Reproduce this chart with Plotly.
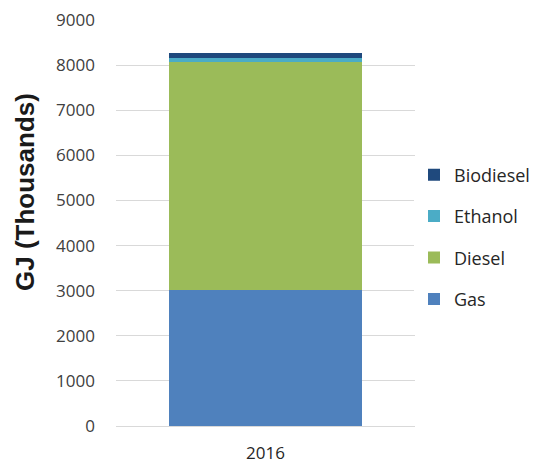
import plotly.graph_objects as go

years = ["2016"]
gas = [3020]
diesel = [5040]
ethanol = [105]
biodiesel = [100]

series = [
    ("Gas", gas, "#4F81BD"),
    ("Diesel", diesel, "#9BBB59"),
    ("Ethanol", ethanol, "#4BACC6"),
    ("Biodiesel", biodiesel, "#1F497D"),
]

fig = go.Figure()
for i, (name, vals, color) in enumerate(series):
    fig.add_trace(go.Bar(
        x=years, y=vals, name=name, legendgroup=name,
        legendrank=len(series) - i,
        marker=dict(color=color, line=dict(width=0)),
    ))

fig.update_layout(
    width=534, height=466,
    margin=dict(l=116, r=119, t=20, b=40, autoexpand=False),
    barmode="stack", bargap=0.354,
    plot_bgcolor="white", paper_bgcolor="white",
    font=dict(family="Open Sans, Noto Sans, sans-serif", size=17, color="#404040"),
    showlegend=True,
    legend=dict(
        xref="container", yref="container",
        x=414 / 534, y=1 - 237 / 466, xanchor="left", yanchor="middle",
        traceorder="grouped", tracegroupgap=15,
        font=dict(size=18, color="#262626"),
        itemwidth=30,
    ),
    yaxis=dict(
        range=[0, 9000], dtick=1000, showgrid=True, gridcolor="#D9D9D9", gridwidth=1,
        zeroline=False, showline=False, ticks="", ticklabelstandoff=20,
        tickfont=dict(size=17, color="#404040"),
    ),
    xaxis=dict(
        showline=True, linecolor="#D9D9D9", linewidth=1, ticks="",
        tickfont=dict(size=17, color="#262626"), ticklabelstandoff=12,
    ),
    annotations=[dict(
        text="GJ (Thousands)", textangle=-90, showarrow=False,
        xref="paper", yref="paper", x=(25 - 116) / 299, y=(426 - 192) / 406,
        xanchor="center", yanchor="middle",
        font=dict(family="Liberation Sans, Arial, sans-serif", size=26,
                  color="#1a1a1a", weight="bold"),
    )],
)

fig.write_html("out.html")
